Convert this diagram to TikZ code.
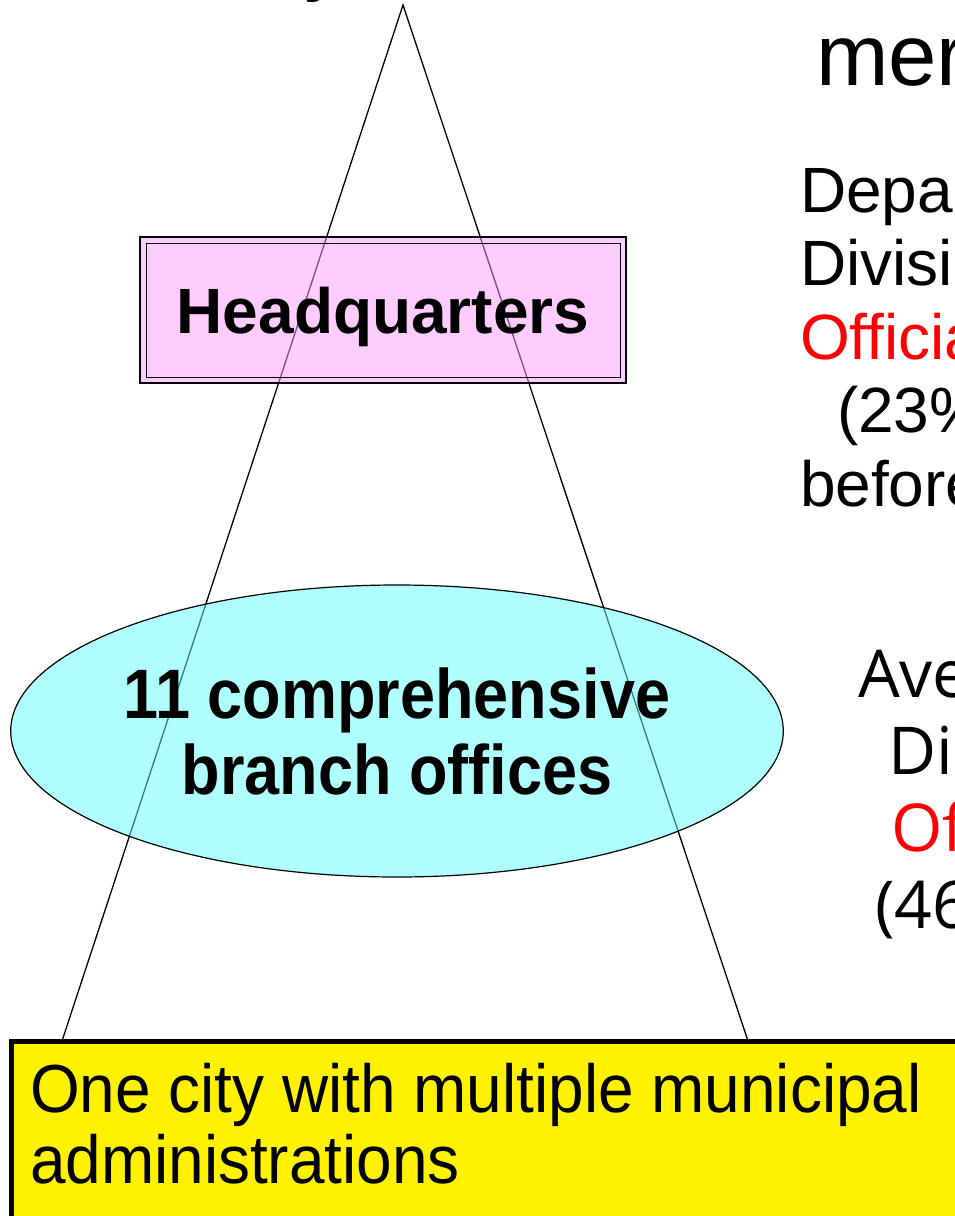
\documentclass[tikz,border=0pt]{standalone}
\usepackage{fontspec}
\setmainfont{Liberation Sans}
\newfontfamily\branchfont{Open Sans}
\usepackage{tikz}
\usetikzlibrary{shapes.geometric}
\definecolor{hqpink}{RGB}{255,153,255}
\definecolor{branchcyan}{RGB}{95,255,255}

\begin{document}
\begin{tikzpicture}[x=1pt,y=-1pt,every node/.style={inner sep=0pt,outer sep=0pt},hq/.style={draw,line width=2.5pt,fill=hqpink,fill opacity=0.5,text opacity=1,minimum width=486pt,minimum height=146pt,text depth=0pt,font=\fontsize{64}{72}\selectfont\bfseries},branch/.style={ellipse,draw,line width=1.2pt,fill=branchcyan,fill opacity=0.5,text opacity=1,minimum width=772pt,minimum height=292pt,align=center,font=\fontsize{70}{76}\selectfont\bfseries},citybox/.style={draw,line width=5pt,fill=yellow},city/.style={anchor=north west,align=left,font=\fontsize{68}{71}\selectfont},note/.style={anchor=north west,align=left}]

\useasboundingbox (0,0) rectangle (955,1216);

% the pyramid
\coordinate (top) at (403,5);
\coordinate (left) at (62,1041);
\coordinate (right) at (748,1041);
\draw[line width=1.3pt] (left) -- (top) -- (right);

\node[anchor=base west,font=\fontsize{87}{100}\selectfont] (tail) at (304,-16) {y};
\node[anchor=base west,font=\fontsize{87}{100}\selectfont] (title) at (816,85) {mer};

\node[hq] (hq) at (383,310) {Headquarters};
\draw[line width=1pt] ([shift={(6,6)}]hq.north west) rectangle ([shift={(-6,-6)}]hq.south east);

\node[branch] (branch) at (397,731) {\scalebox{0.9}[1]{11 comprehensive}\\\scalebox{0.9}[1]{branch offices}};

% notes on the right
\node[note,font=\fontsize{64}{73.5}\selectfont] (hqnote) at (800,168) {Depa\\Divisi\\\textcolor{red}{Officia}\\\hspace*{37pt}(23\%\\before};
\node[note,font=\branchfont\fontsize{66}{77}\selectfont] (branchnote) at (858,650) {Ave\\\hspace*{30pt}Di\\\hspace*{33pt}\textcolor{red}{Of}\\\hspace*{17pt}(46};

% the city
\coordinate (citycorner) at (11,1041);
\draw[citybox] (citycorner) rectangle ++(1000,300);
\node[city] (city) at (30,1063) {\scalebox{0.94}[1]{One city with multiple municipal}\\\scalebox{0.94}[1]{administrations}};
\end{tikzpicture}
\end{document}
